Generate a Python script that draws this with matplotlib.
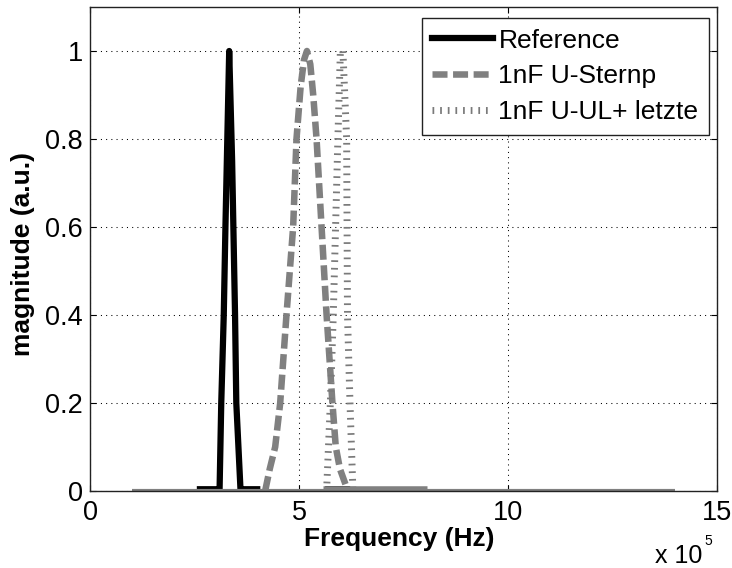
import numpy as np
import matplotlib
matplotlib.use("Agg")
import matplotlib.pyplot as plt

plt.rcParams['font.family'] = ['Liberation Sans', 'DejaVu Sans']

# frequency axis in units of 1e5 Hz
ref_freq = [2.63, 3.06, 3.10, 3.14, 3.20, 3.24, 3.33, 3.40, 3.47, 3.50, 3.60, 3.66, 4.00,
            np.nan, 5.70, 6.15]
ref_mag = [0.004, 0.004, 0.004, 0.2, 0.4, 0.6, 1.0, 0.75, 0.4, 0.2, 0.004, 0.004, 0.004,
           np.nan, 0.004, 0.004]

sternp_freq = [4.19, 4.30, 4.43, 4.55, 4.70, 4.86, 4.94, 5.04, 5.12, 5.19, 5.27, 5.34,
               5.42, 5.54, 5.66, 5.80, 5.88, 5.98, 6.17]
sternp_mag = [0.0, 0.05, 0.1, 0.2, 0.4, 0.6, 0.8, 0.92, 0.98, 1.0, 0.97, 0.9,
              0.8, 0.6, 0.4, 0.2, 0.1, 0.05, 0.0]

letzte_freq = [5.66, 5.75, 5.82, 5.93, 5.99, 6.05, 6.14, 6.16, 6.22, 6.29]
letzte_mag = [0.0, 0.2, 0.4, 0.8, 1.0, 1.0, 0.8, 0.4, 0.2, 0.0]

# near-zero floor of the two gray spectra
floor_start = [5.57, 1.0]
floor_stop = [8.06, 14.0]
floor_level = [0.005, 0.0]

series_labels = ['Reference', '1nF U-Sternp', '1nF U-UL+ letzte']
x_ticks = [0, 5, 10, 15]
y_ticks = [0, 0.2, 0.4, 0.6, 0.8, 1.0]
y_tick_labels = ['0', '0.2', '0.4', '0.6', '0.8', '1']

gray = '#808080'

fig = plt.figure(figsize=(7.32, 5.68), dpi=100)
ax = fig.add_axes([90 / 732, 77 / 568, 627 / 732, 484 / 568])

ax.plot(ref_freq, ref_mag, color='black', lw=4.5, solid_joinstyle='round',
        label=series_labels[0])
ax.plot(sternp_freq, sternp_mag, color=gray, lw=4.7, dashes=(2.3, 0.85),
        label=series_labels[1])
ax.plot(letzte_freq, letzte_mag, color='#7a7a7a', lw=5, dashes=(0.25, 0.85),
        label=series_labels[2])
ax.hlines(floor_level[0], floor_start[0], floor_stop[0], color=gray, lw=4.7)
ax.hlines(floor_level[1], floor_start[1], floor_stop[1], color=gray, lw=3)

ax.set_xlim(0, 15)
ax.set_ylim(0, 1.1)
ax.set_xticks(x_ticks)
ax.set_yticks(y_ticks, y_tick_labels)
ax.tick_params(direction='in', length=4.5, width=0.8, labelsize=19.5,
               top=True, right=True)
ax.tick_params(axis='x', pad=6.5)
ax.tick_params(axis='y', pad=5)
ax.grid(True, color='black', lw=0.75, linestyle=(0, (1, 4)))
for sp in ax.spines.values():
    sp.set_linewidth(1.0)
    sp.set_color('#222222')

ax.set_xlabel('Frequency (Hz)', fontsize=19, fontweight='bold')
ax.xaxis.set_label_coords(0.493, -0.074)
ax.set_ylabel('magnitude (a.u.)', fontsize=19, fontweight='bold', va='center')
ax.yaxis.set_label_coords(-0.107, 0.49)

fig.text(655 / 732, 1 - 563 / 568, 'x 10', fontsize=18, va='baseline')
fig.text(704 / 732, 1 - 545 / 568, '5', fontsize=10, va='baseline')

leg = ax.legend(loc='upper right', bbox_to_anchor=(709 / 732, 1 - 18 / 568),
                bbox_transform=fig.transFigure, borderaxespad=0, fontsize=19,
                frameon=True, fancybox=False, framealpha=1, edgecolor='#222222',
                handlelength=2.3, handletextpad=0.2, labelspacing=0.45,
                borderpad=0.4)
leg.get_frame().set_linewidth(1.0)

fig.savefig('out.png', dpi=100)
